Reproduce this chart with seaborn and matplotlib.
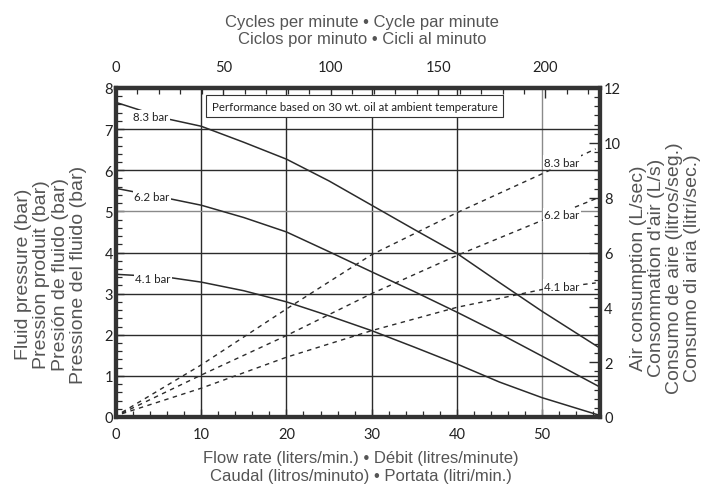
import matplotlib
matplotlib.use("Agg")
import matplotlib.pyplot as plt
from matplotlib.ticker import MultipleLocator, FixedLocator
import seaborn as sns
import pandas as pd

sns.set_theme(style="white")
plt.rcParams['font.family'] = ['Liberation Sans', 'DejaVu Sans']

# Fluid pressure (bar) against flow rate (L/min) for each air inlet pressure
flow = [0, 6, 10, 15, 20, 25, 30, 35, 40, 45, 50, 56.6]
pressure_83 = [7.65, 7.25, 7.07, 6.68, 6.27, 5.74, 5.15, 4.56, 3.98, 3.27, 2.57, 1.70]
pressure_62 = [5.56, 5.32, 5.15, 4.85, 4.50, 4.02, 3.53, 3.05, 2.55, 2.03, 1.48, 0.75]
pressure_41 = [3.47, 3.40, 3.28, 3.07, 2.80, 2.46, 2.10, 1.70, 1.29, 0.85, 0.47, 0.05]

# Air consumption (L/s) against flow rate (L/min)
air_flow = [0.7, 10, 20, 30, 40, 50, 56.3]
air_83 = [0.17, 1.90, 3.94, 5.92, 7.45, 8.87, 9.78]
air_62 = [0.14, 1.53, 2.97, 4.50, 5.89, 7.17, 7.96]
air_41 = [0.12, 1.05, 2.18, 3.15, 4.00, 4.65, 4.89]

inlet_labels = ["8.3 bar", "6.2 bar", "4.1 bar"]

flow_ticks = [0, 10, 20, 30, 40, 50]
pressure_ticks = [0, 1, 2, 3, 4, 5, 6, 7, 8]
air_ticks = [0, 2, 4, 6, 8, 10, 12]
cycle_ticks = [0, 50, 100, 150, 200]
litres_per_cycle = 0.252

note = "Performance based on 30 wt. oil at ambient temperature"

fluid_df = pd.concat([
    pd.DataFrame({"flow": flow, "value": vals, "inlet": lab})
    for vals, lab in zip([pressure_83, pressure_62, pressure_41], inlet_labels)
])
air_df = pd.concat([
    pd.DataFrame({"flow": air_flow, "value": vals, "inlet": lab})
    for vals, lab in zip([air_83, air_62, air_41], inlet_labels)
])

ink = "#2b2b2b"
soft = "#8a8a8a"
label_grey = "#555555"
tick_font = "Lato"

fig = plt.figure(figsize=(7.05, 4.85), dpi=100)
ax = fig.add_axes([116 / 705, 67 / 485, 484 / 705, 329 / 485])
ax2 = ax.twinx()

sns.lineplot(data=fluid_df, x="flow", y="value", units="inlet", estimator=None,
             color=ink, lw=1.1, ax=ax, sort=False, zorder=3)
sns.lineplot(data=air_df, x="flow", y="value", units="inlet", estimator=None,
             color=ink, lw=1.0, ax=ax2, sort=False)
for line in ax2.get_lines():
    line.set_linestyle((0, (3.2, 3.2)))

ax.set_xlim(0, 56.8)
ax.set_ylim(0, 8)
ax2.set_ylim(0, 12)
for a in (ax, ax2):
    a.set_xlabel("")
    a.set_ylabel("")

# grid lines at the major ticks; the 50 L/min and 5 bar lines are lighter
ax.grid(False)
ax.vlines(flow_ticks[1:], 0, 1, transform=ax.get_xaxis_transform(),
          colors=[ink if v != 50 else soft for v in flow_ticks[1:]], lw=1.0, zorder=1)
ax.hlines(pressure_ticks[1:-1], 0, 1, transform=ax.get_yaxis_transform(),
          colors=[ink if v != 5 else soft for v in pressure_ticks[1:-1]], lw=1.0, zorder=1)

ax.xaxis.set_major_locator(FixedLocator(flow_ticks))
ax.xaxis.set_minor_locator(MultipleLocator(2))
ax.yaxis.set_major_locator(FixedLocator(pressure_ticks))
ax.yaxis.set_minor_locator(MultipleLocator(0.2))
ax2.yaxis.set_major_locator(FixedLocator(air_ticks))
ax2.yaxis.set_minor_locator(MultipleLocator(1 / 3))

# ticks
ax.tick_params(axis="x", which="both", direction="in", bottom=True, top=False,
               colors=ink, labelcolor="#222222", labelsize=10.5, pad=7,
               labelfontfamily=tick_font)
ax.tick_params(axis="x", which="major", length=6, width=1)
ax.tick_params(axis="x", which="minor", length=4, width=0.9)
ax.tick_params(axis="y", which="both", direction="in", left=True, right=False,
               colors=ink, labelcolor="#222222", labelsize=10.5, pad=2,
               labelfontfamily=tick_font)
ax.tick_params(axis="y", which="major", length=6, width=1)
ax.tick_params(axis="y", which="minor", length=4, width=0.9)
ax2.tick_params(axis="y", which="both", direction="in", right=True, left=False,
                colors=ink, labelcolor="#222222", labelsize=10.5, pad=3,
                labelfontfamily=tick_font)
ax2.tick_params(axis="y", which="major", length=8, width=1)
ax2.tick_params(axis="y", which="minor", length=4, width=0.9)

# cycles per minute on the top axis
top = ax.secondary_xaxis("top", functions=(lambda f: f / litres_per_cycle,
                                           lambda c: c * litres_per_cycle))
top.xaxis.set_major_locator(FixedLocator(cycle_ticks))
top.xaxis.set_minor_locator(MultipleLocator(10))
top.tick_params(axis="x", which="both", direction="in", colors=ink,
                labelcolor="#222222", labelsize=10.5, pad=10,
                labelfontfamily=tick_font)
top.tick_params(axis="x", which="major", length=7, width=1)
top.tick_params(axis="x", which="minor", length=4, width=0.9)

for a in (ax, ax2):
    for s in a.spines.values():
        s.set_linewidth(3)
        s.set_color("#333333")
top.spines["top"].set_linewidth(3)
top.spines["top"].set_color("#333333")

# curve labels
lab_box = dict(facecolor="white", edgecolor="none", pad=1.0)
for (x, y), lab in zip([(4.1, 7.30), (4.2, 5.36), (4.35, 3.37)], inlet_labels):
    ax.text(x, y, lab, ha="center", va="center", fontsize=8.3, color="#222222",
            family=tick_font, bbox=lab_box, zorder=4)
for (x, y), lab in zip([(52.3, 9.30), (52.3, 7.38), (52.3, 4.77)], inlet_labels):
    ax2.text(x, y, lab, ha="center", va="center", fontsize=8.3, color="#222222",
             family=tick_font, bbox=lab_box, zorder=4)

ax.text(28.0, 7.56, note, ha="center", va="center", fontsize=8.3,
        color="#222222", family=tick_font, zorder=5,
        bbox=dict(facecolor="white", edgecolor="#333333", lw=0.8, pad=3.8))

# axis titles
title_kw = dict(fontsize=12, color=label_grey, linespacing=1.2)
side_kw = dict(fontsize=14, color=label_grey, linespacing=1.1)
fig.text(0.5135, 0.936, "Cycles per minute \u2022 Cycle par minute\n"
         "Ciclos por minuto \u2022 Cicli al minuto",
         ha="center", va="center", multialignment="center", **title_kw)
fig.text(0.512, 0.036, "Flow rate (liters/min.) \u2022 D\u00e9bit (litres/minute)\n"
         "Caudal (litros/minuto) \u2022 Portata (litri/min.)",
         ha="center", va="center", multialignment="center", **title_kw)
fig.text(0.0725, 0.434, "Fluid pressure (bar)\nPression produit (bar)\n"
         "Presi\u00f3n de fluido (bar)\nPressione del fluido (bar)",
         rotation=90, ha="center", va="center", multialignment="center", **side_kw)
fig.text(0.944, 0.447, "Air consumption (L/sec)\nConsommation d'air (L/s)\n"
         "Consumo de aire (litros/seg.)\nConsumo di aria (litri/sec.)",
         rotation=90, ha="center", va="center", multialignment="center", **side_kw)

fig.savefig("out.png", dpi=100)
